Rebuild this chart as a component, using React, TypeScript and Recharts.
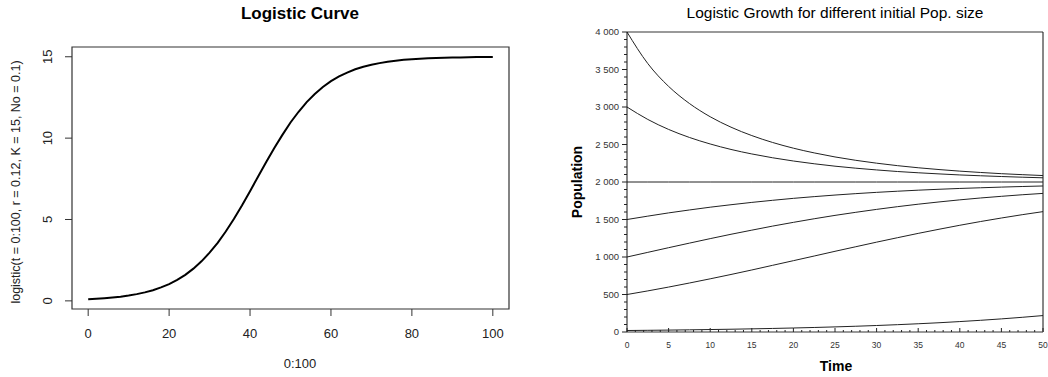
import React from 'react'
import {
  LineChart,
  Line,
  XAxis,
  YAxis,
  ReferenceArea,
  ReferenceLine,
} from 'recharts'

// Left panel: logistic(t = 0:100, r = 0.12, K = 15, No = 0.1), read every 2 units
const logisticT = [
  0, 2, 4, 6, 8, 10, 12, 14, 16, 18, 20, 22, 24, 26, 28, 30, 32, 34, 36, 38, 40,
  42, 44, 46, 48, 50, 52, 54, 56, 58, 60, 62, 64, 66, 68, 70, 72, 74, 76, 78, 80,
  82, 84, 86, 88, 90, 92, 94, 96, 98, 100,
]
const logisticN = [
  0.1, 0.127, 0.161, 0.204, 0.258, 0.327, 0.413, 0.521, 0.657, 0.825, 1.03,
  1.29, 1.6, 1.98, 2.43, 2.96, 3.57, 4.26, 5.03, 5.86, 6.74, 7.64, 8.53, 9.39,
  10.2, 10.96, 11.62, 12.21, 12.71, 13.14, 13.5, 13.79, 14.03, 14.23, 14.39,
  14.51, 14.61, 14.7, 14.76, 14.81, 14.85, 14.88, 14.91, 14.93, 14.94, 14.95,
  14.96, 14.97, 14.98, 14.98, 14.99,
]
const leftXTicks = [0, 20, 40, 60, 80, 100]
const leftYTicks = [0, 5, 10, 15]

// Right panel: population curves for different starting sizes
const time = [
  0, 2.5, 5, 7.5, 10, 12.5, 15, 17.5, 20, 22.5, 25, 27.5, 30, 32.5, 35, 37.5, 40,
  42.5, 45, 47.5, 50,
]
const pop4000 = [
  4000, 3579, 3275, 3047, 2870, 2731, 2619, 2527, 2451, 2388, 2334, 2289, 2251,
  2218, 2190, 2166, 2145, 2127, 2111, 2098, 2086,
]
const pop3000 = [
  3000, 2834, 2701, 2594, 2507, 2434, 2374, 2323, 2280, 2243, 2211, 2184, 2161,
  2140, 2123, 2108, 2094, 2083, 2073, 2064, 2056,
]
const pop2000 = [
  2000, 2000, 2000, 2000, 2000, 2000, 2000, 2000, 2000, 2000, 2000, 2000, 2000,
  2000, 2000, 2000, 2000, 2000, 2000, 2000, 2000,
]
const pop1500 = [
  1500, 1545, 1588, 1627, 1664, 1697, 1728, 1756, 1782, 1805, 1826, 1845, 1862,
  1877, 1891, 1903, 1914, 1923, 1932, 1940, 1947,
]
const pop1000 = [
  1000, 1062, 1124, 1185, 1245, 1303, 1358, 1412, 1462, 1510, 1555, 1596, 1635,
  1671, 1704, 1734, 1762, 1787, 1809, 1830, 1848,
]
const pop500 = [
  500, 548, 599, 653, 709, 767, 827, 889, 951, 1013, 1076, 1137, 1198, 1257,
  1315, 1370, 1423, 1473, 1520, 1564, 1605,
]
const pop20 = [
  20, 22.6, 25.6, 29, 32.8, 37, 41.9, 47.3, 53.4, 60.3, 68.1, 76.8, 86.6, 97.6,
  109.8, 123.5, 139, 156, 175, 195.9, 219,
]
const seriesKeys = ['p4000', 'p3000', 'p2000', 'p1500', 'p1000', 'p500', 'p20']
const seriesValues = [pop4000, pop3000, pop2000, pop1500, pop1000, pop500, pop20]

const rightXTicks = [
  0, 1, 2, 3, 4, 5, 6, 7, 8, 9, 10, 11, 12, 13, 14, 15, 16, 17, 18, 19, 20, 21,
  22, 23, 24, 25, 26, 27, 28, 29, 30, 31, 32, 33, 34, 35, 36, 37, 38, 39, 40,
  41, 42, 43, 44, 45, 46, 47, 48, 49, 50,
]
const rightYTicks = [
  0, 100, 200, 300, 400, 500, 600, 700, 800, 900, 1000, 1100, 1200, 1300, 1400,
  1500, 1600, 1700, 1800, 1900, 2000, 2100, 2200, 2300, 2400, 2500, 2600, 2700,
  2800, 2900, 3000, 3100, 3200, 3300, 3400, 3500, 3600, 3700, 3800, 3900, 4000,
]

const leftData = logisticT.map((t, i) => ({ t, n: logisticN[i] }))
const rightData = time.map((t, i) => {
  const row: Record<string, number> = { t }
  seriesKeys.forEach((k, j) => {
    row[k] = seriesValues[j][i]
  })
  return row
})

const FONT = '"Liberation Sans", Arial, sans-serif'
const RIGHT_LEFT = 87 // plot left edge inside right chart
const RIGHT_BOTTOM = 332

const fmtPop = (v: number) =>
  v >= 1000 ? `${Math.floor(v / 1000)} ${String(v % 1000).padStart(3, '0')}` : String(v)

const LeftXTick = (props: any) => (
  <text x={props.x} y={338} textAnchor="middle" fontSize={13} fill="#222" fontFamily={FONT}>
    {props.payload.value}
  </text>
)

const LeftYTick = (props: any) => (
  <text
    x={0}
    y={0}
    transform={`translate(52, ${props.y}) rotate(-90)`}
    textAnchor="middle"
    fontSize={13}
    fill="#222"
    fontFamily={FONT}
  >
    {props.payload.value}
  </text>
)

const RightXTick = (props: any) => {
  const v = props.payload.value
  const major = v % 5 === 0
  return (
    <g>
      <line x1={props.x} x2={props.x} y1={RIGHT_BOTTOM} y2={RIGHT_BOTTOM - (major ? 4 : 2)} stroke="#222" />
      {major && (
        <text x={props.x} y={348} textAnchor="middle" fontSize={8.5} fill="#333" fontFamily={FONT}>
          {v}
        </text>
      )}
    </g>
  )
}

const RightYTick = (props: any) => {
  const v = props.payload.value
  const major = v % 500 === 0
  return (
    <g>
      <line x1={RIGHT_LEFT - (major ? 5 : 3)} x2={RIGHT_LEFT} y1={props.y} y2={props.y} stroke="#222" />
      {major && (
        <text x={RIGHT_LEFT - 8} y={props.y + 3} textAnchor="end" fontSize={9.5} fill="#333" fontFamily={FONT}>
          {fmtPop(v)}
        </text>
      )}
    </g>
  )
}

const abs = (s: React.CSSProperties): React.CSSProperties => ({
  position: 'absolute',
  fontFamily: FONT,
  whiteSpace: 'nowrap',
  ...s,
})

export default function App() {
  return (
    <div style={{ position: 'absolute', left: 0, top: 0, width: 1048, height: 377, background: '#fff' }}>
      {/* Left panel */}
      <div style={{ position: 'absolute', left: 0, top: 0 }}>
        <LineChart width={540} height={377} data={leftData} margin={{ top: 47, right: 31, bottom: 0, left: 0 }}>
          <XAxis
            dataKey="t"
            type="number"
            domain={[-4, 104]}
            ticks={leftXTicks}
            axisLine={false}
            tickSize={7}
            tickLine={{ stroke: '#333' }}
            tick={<LeftXTick />}
            height={68}
            interval={0}
          />
          <YAxis
            type="number"
            domain={[-0.5, 15.6]}
            ticks={leftYTicks}
            axisLine={false}
            tickSize={7}
            tickLine={{ stroke: '#333' }}
            tick={<LeftYTick />}
            width={72}
            interval={0}
            allowDataOverflow
          />
          <ReferenceArea x1={-4} x2={104} y1={-0.5} y2={15.6} fill="none" stroke="#333" strokeWidth={1.2} ifOverflow="visible" />
          <Line dataKey="n" type="linear" stroke="#000" strokeWidth={2} dot={false} isAnimationActive={false} />
        </LineChart>
      </div>
      <div style={abs({ left: 300, top: 4, transform: 'translateX(-50%)', fontSize: 17, fontWeight: 'bold', color: '#000' })}>
        Logistic Curve
      </div>
      <div style={abs({ left: 300, top: 356, transform: 'translateX(-50%)', fontSize: 13, color: '#222' })}>
        0:100
      </div>
      <div style={abs({ left: 16, top: 182, transform: 'translate(-50%, -50%) rotate(-90deg)', fontSize: 12.5, color: '#222' })}>
        logistic(t = 0:100, r = 0.12, K = 15, No = 0.1)
      </div>

      {/* Right panel */}
      <div style={{ position: 'absolute', left: 540, top: 0 }}>
        <LineChart width={508} height={377} data={rightData} margin={{ top: 32, right: 5, bottom: 0, left: 0 }}>
          <XAxis
            dataKey="t"
            type="number"
            domain={[0, 50]}
            ticks={rightXTicks}
            axisLine={{ stroke: '#777', strokeWidth: 1.5 }}
            tickLine={false}
            tick={<RightXTick />}
            height={45}
            interval={0}
          />
          <YAxis
            type="number"
            domain={[0, 4000]}
            ticks={rightYTicks}
            axisLine={{ stroke: '#111' }}
            tickLine={false}
            tick={<RightYTick />}
            width={87}
            interval={0}
            allowDataOverflow
          />
          <ReferenceLine y={4000} stroke="#999" strokeWidth={2} />
          <ReferenceLine x={50} stroke="#111" strokeWidth={1} />
          {seriesKeys.map((k) => (
            <Line
              key={k}
              dataKey={k}
              type="monotone"
              stroke="#222"
              strokeWidth={1}
              dot={false}
              isAnimationActive={false}
            />
          ))}
        </LineChart>
      </div>
      <div style={abs({ left: 835, top: 4, transform: 'translateX(-50%)', fontSize: 15.5, color: '#000' })}>
        Logistic Growth for different initial Pop. size
      </div>
      <div style={abs({ left: 836, top: 358, transform: 'translateX(-50%)', fontSize: 14, fontWeight: 'bold', color: '#000' })}>
        Time
      </div>
      <div style={abs({ left: 577, top: 182, transform: 'translate(-50%, -50%) rotate(-90deg)', fontSize: 14, fontWeight: 'bold', color: '#000' })}>
        Population
      </div>
    </div>
  )
}
